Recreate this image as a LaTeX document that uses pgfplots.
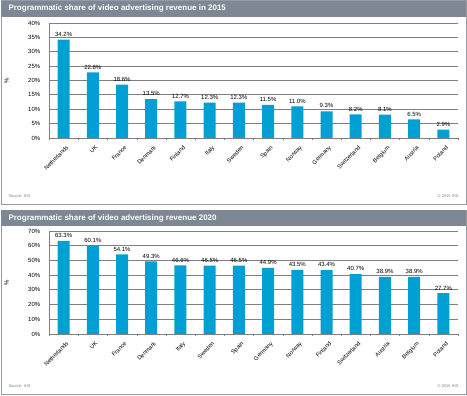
\documentclass[border=0pt]{standalone}
\usepackage{pgfplots}
\pgfplotsset{compat=1.18}
\usepackage{fontspec}
\setmainfont{Liberation Sans}
\definecolor{barblue}{RGB}{0,160,212}
\definecolor{headgray}{RGB}{125,136,148}
\definecolor{framegray}{RGB}{150,156,162}
\definecolor{gridgray}{RGB}{128,128,128}
\pgfplotstableread{
x name v
0 Netherlands 34.2
1 UK 22.8
2 France 18.6
3 Denmark 13.5
4 Finland 12.7
5 Italy 12.3
6 Sweden 12.3
7 Spain 11.5
8 Norway 11.0
9 Germany 9.3
10 Switzerland 8.2
11 Belgium 8.1
12 Austria 6.5
13 Poland 2.9
}\dataA
\pgfplotstableread{
x name v
0 Netherlands 63.3
1 UK 60.1
2 France 54.1
3 Denmark 49.3
4 Italy 46.6
5 Sweden 46.5
6 Spain 46.5
7 Germany 44.9
8 Norway 43.5
9 Finland 43.4
10 Switzerland 40.7
11 Austria 38.9
12 Belgium 38.9
13 Poland 27.7
}\dataB
\pgfplotsset{
  panel/.style={
    scale only axis, width=409pt,
    anchor=south west,
    xmin=-0.5, xmax=13.5,
    ymin=0,
    axis lines*=left,
    axis line style={gridgray, line width=0.8pt},
    ymajorgrids, grid style={gridgray, line width=0.8pt},
    xtick=data,
    major x tick style={draw=none},
    minor xtick={-0.5,0.5,...,13.5},
    minor x tick style={gridgray},
    minor tick length=2pt,
    tick align=outside,
    ytick style={draw=none},
    /pgf/number format/assume math mode=true,
    yticklabel={\pgfmathprintnumber{\tick}\%},
    yticklabel style={font=\fontsize{6}{7}\selectfont, xshift=-1pt},
    xticklabel style={font=\fontsize{5.8}{6.5}\selectfont, rotate=45, anchor=north east, inner sep=0.5pt, yshift=-3pt},
    ylabel={\%}, ylabel style={font=\fontsize{6}{7}\selectfont},
    nodes near coords={\pgfmathprintnumber[fixed,fixed zerofill,precision=1]{\pgfplotspointmeta}\%},
    nodes near coords style={font=\fontsize{6}{7}\selectfont, text=black, inner sep=3pt},
    point meta=y,
    clip=false,
  }
}
\begin{document}
\begin{tikzpicture}[x=1pt,y=1pt]
\path (0,0) rectangle (467,396);
% panel 1
\fill[white] (1,191) rectangle (466,395);
\draw[framegray, line width=1pt] (1,191) rectangle (466,395);
\fill[headgray] (1,379) rectangle (466,395);
\node[anchor=west, text=white, font=\fontsize{8}{9}\selectfont\bfseries] at (5,387.5) {Programmatic share of video advertising revenue in 2015};
\node[anchor=west, font=\fontsize{4}{5}\selectfont, text=gray] at (5,199.5) {Source: IHS};
\node[anchor=east, font=\fontsize{4}{5}\selectfont, text=gray] at (462,199.5) {\textcopyright{} 2015 IHS};
% panel 2
\fill[white] (1,1) rectangle (466,185);
\draw[framegray, line width=1pt] (1,1) rectangle (466,185);
\fill[headgray] (1,170) rectangle (466,186);
\node[anchor=west, text=white, font=\fontsize{8}{9}\selectfont\bfseries] at (5,178) {Programmatic share of video advertising revenue 2020};
\node[anchor=west, font=\fontsize{4}{5}\selectfont, text=gray] at (5,9.5) {Source: IHS};
\node[anchor=east, font=\fontsize{4}{5}\selectfont, text=gray] at (462,9.5) {\textcopyright{} 2015 IHS};

\begin{axis}[panel, at={(49pt,258pt)}, height=115pt,
  ymax=40, ytick={0,5,...,40},
  xticklabels from table={\dataA}{name},
  ylabel style={at={(axis description cs:-0.09,0.5)}}]
\addplot[ybar, bar width=12pt, fill=barblue, draw=none] table[x=x,y=v] {\dataA};
\end{axis}

\begin{axis}[panel, at={(49pt,62pt)}, height=103pt,
  ymax=70, ytick={0,10,...,70},
  xticklabels from table={\dataB}{name},
  ylabel style={at={(axis description cs:-0.09,0.5)}}]
\addplot[ybar, bar width=12pt, fill=barblue, draw=none] table[x=x,y=v] {\dataB};
\end{axis}
\end{tikzpicture}
\end{document}
